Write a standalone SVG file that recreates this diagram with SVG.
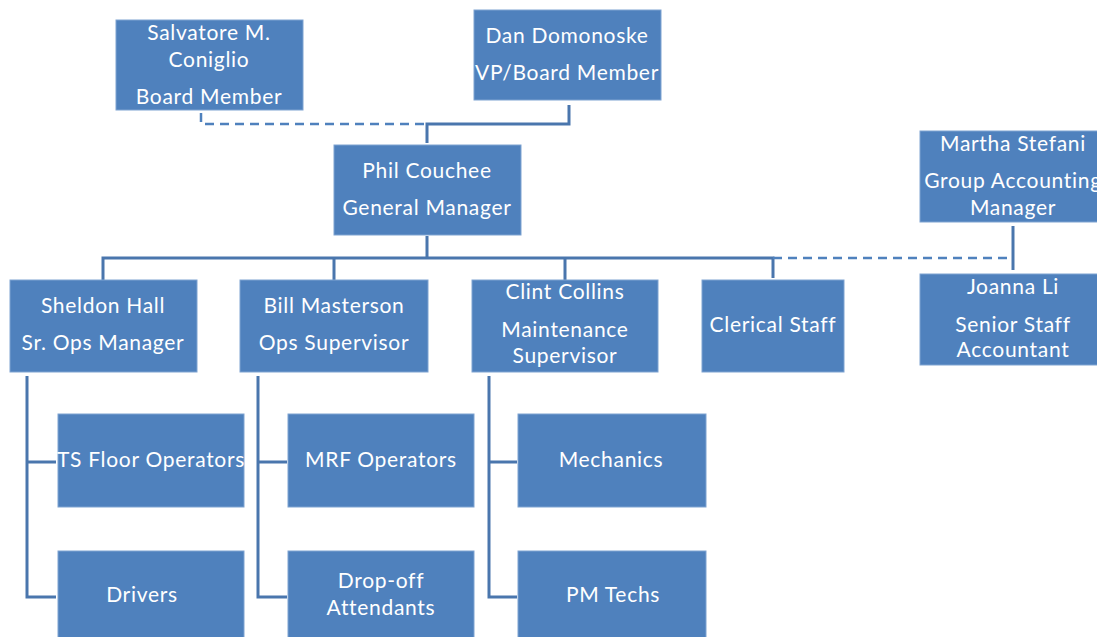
<svg xmlns="http://www.w3.org/2000/svg" width="1097" height="637" viewBox="0 0 1097 637">
<style>
.box{fill:#4F81BD;stroke:#7FA3D1;stroke-width:1}
.t{font-family:Lato,"Liberation Sans",sans-serif;font-size:21px;letter-spacing:0.7px;fill:#FFFFFF;text-anchor:middle}
.c{fill:none;stroke:#4A76AD;stroke-width:3}
.d{fill:none;stroke:#4F81BD;stroke-width:2.5;stroke-dasharray:9 6}
</style>
<rect width="1097" height="637" fill="#FFFFFF"/>
<g id="connectors">
<path class="c" d="M569 105 V124 H427 V143" stroke="#3F6797"/>
<path class="d" d="M201 113 V124 H427"/>
<path class="c" d="M427 236 V258 M103 280 V258 H773 V278 M334 258 V280 M565 258 V280"/>
<path class="d" d="M773 258 H1010"/>
<path class="c" d="M1013 226 V270"/>
<path class="c" d="M27 376 V597 H56 M27 462 H56"/>
<path class="c" d="M258 376 V597 H287 M258 462 H287"/>
<path class="c" d="M489 376 V597 H517 M489 462 H517"/>
</g>
<g id="salvatore"><rect class="box" x="116" y="20" width="187" height="90"/>
<text class="t" x="209" y="40">Salvatore M.</text><text class="t" x="209" y="67">Coniglio</text><text class="t" x="209" y="104">Board Member</text></g>
<g id="dan"><rect class="box" x="474" y="10" width="187" height="90"/>
<text class="t" x="567" y="43">Dan Domonoske</text><text class="t" x="567" y="80">VP/Board Member</text></g>
<g id="phil"><rect class="box" x="334" y="145" width="187" height="90"/>
<text class="t" x="427" y="178">Phil Couchee</text><text class="t" x="427" y="215">General Manager</text></g>
<g id="martha"><rect class="box" x="920" y="131" width="190" height="91"/>
<text class="t" x="1013" y="151">Martha Stefani</text><text class="t" x="1013" y="188">Group Accounting</text><text class="t" x="1013" y="215">Manager</text></g>
<g id="sheldon"><rect class="box" x="10" y="280" width="187" height="92"/>
<text class="t" x="103" y="313">Sheldon Hall</text><text class="t" x="103" y="350">Sr. Ops Manager</text></g>
<g id="bill"><rect class="box" x="240" y="280" width="188" height="92"/>
<text class="t" x="334" y="313">Bill Masterson</text><text class="t" x="334" y="350">Ops Supervisor</text></g>
<g id="clint"><rect class="box" x="472" y="280" width="186" height="92"/>
<text class="t" x="565" y="299">Clint Collins</text><text class="t" x="565" y="337">Maintenance</text><text class="t" x="565" y="363">Supervisor</text></g>
<g id="clerical"><rect class="box" x="702" y="280" width="142" height="92"/>
<text class="t" x="773" y="332">Clerical Staff</text></g>
<g id="joanna"><rect class="box" x="920" y="274" width="190" height="91"/>
<text class="t" x="1013" y="294">Joanna Li</text><text class="t" x="1013" y="332">Senior Staff</text><text class="t" x="1013" y="357">Accountant</text></g>
<g id="tsfloor"><rect class="box" x="58" y="414" width="186" height="93"/>
<text class="t" x="151" y="467">TS Floor Operators</text></g>
<g id="drivers"><rect class="box" x="58" y="551" width="186" height="93"/>
<text class="t" x="142" y="602">Drivers</text></g>
<g id="mrf"><rect class="box" x="288" y="414" width="186" height="93"/>
<text class="t" x="381" y="467">MRF Operators</text></g>
<g id="dropoff"><rect class="box" x="288" y="551" width="186" height="93"/>
<text class="t" x="381" y="588">Drop-off</text><text class="t" x="381" y="615">Attendants</text></g>
<g id="mechanics"><rect class="box" x="518" y="414" width="188" height="93"/>
<text class="t" x="611" y="467">Mechanics</text></g>
<g id="pmtechs"><rect class="box" x="518" y="551" width="188" height="93"/>
<text class="t" x="613" y="602">PM Techs</text></g>
</svg>
